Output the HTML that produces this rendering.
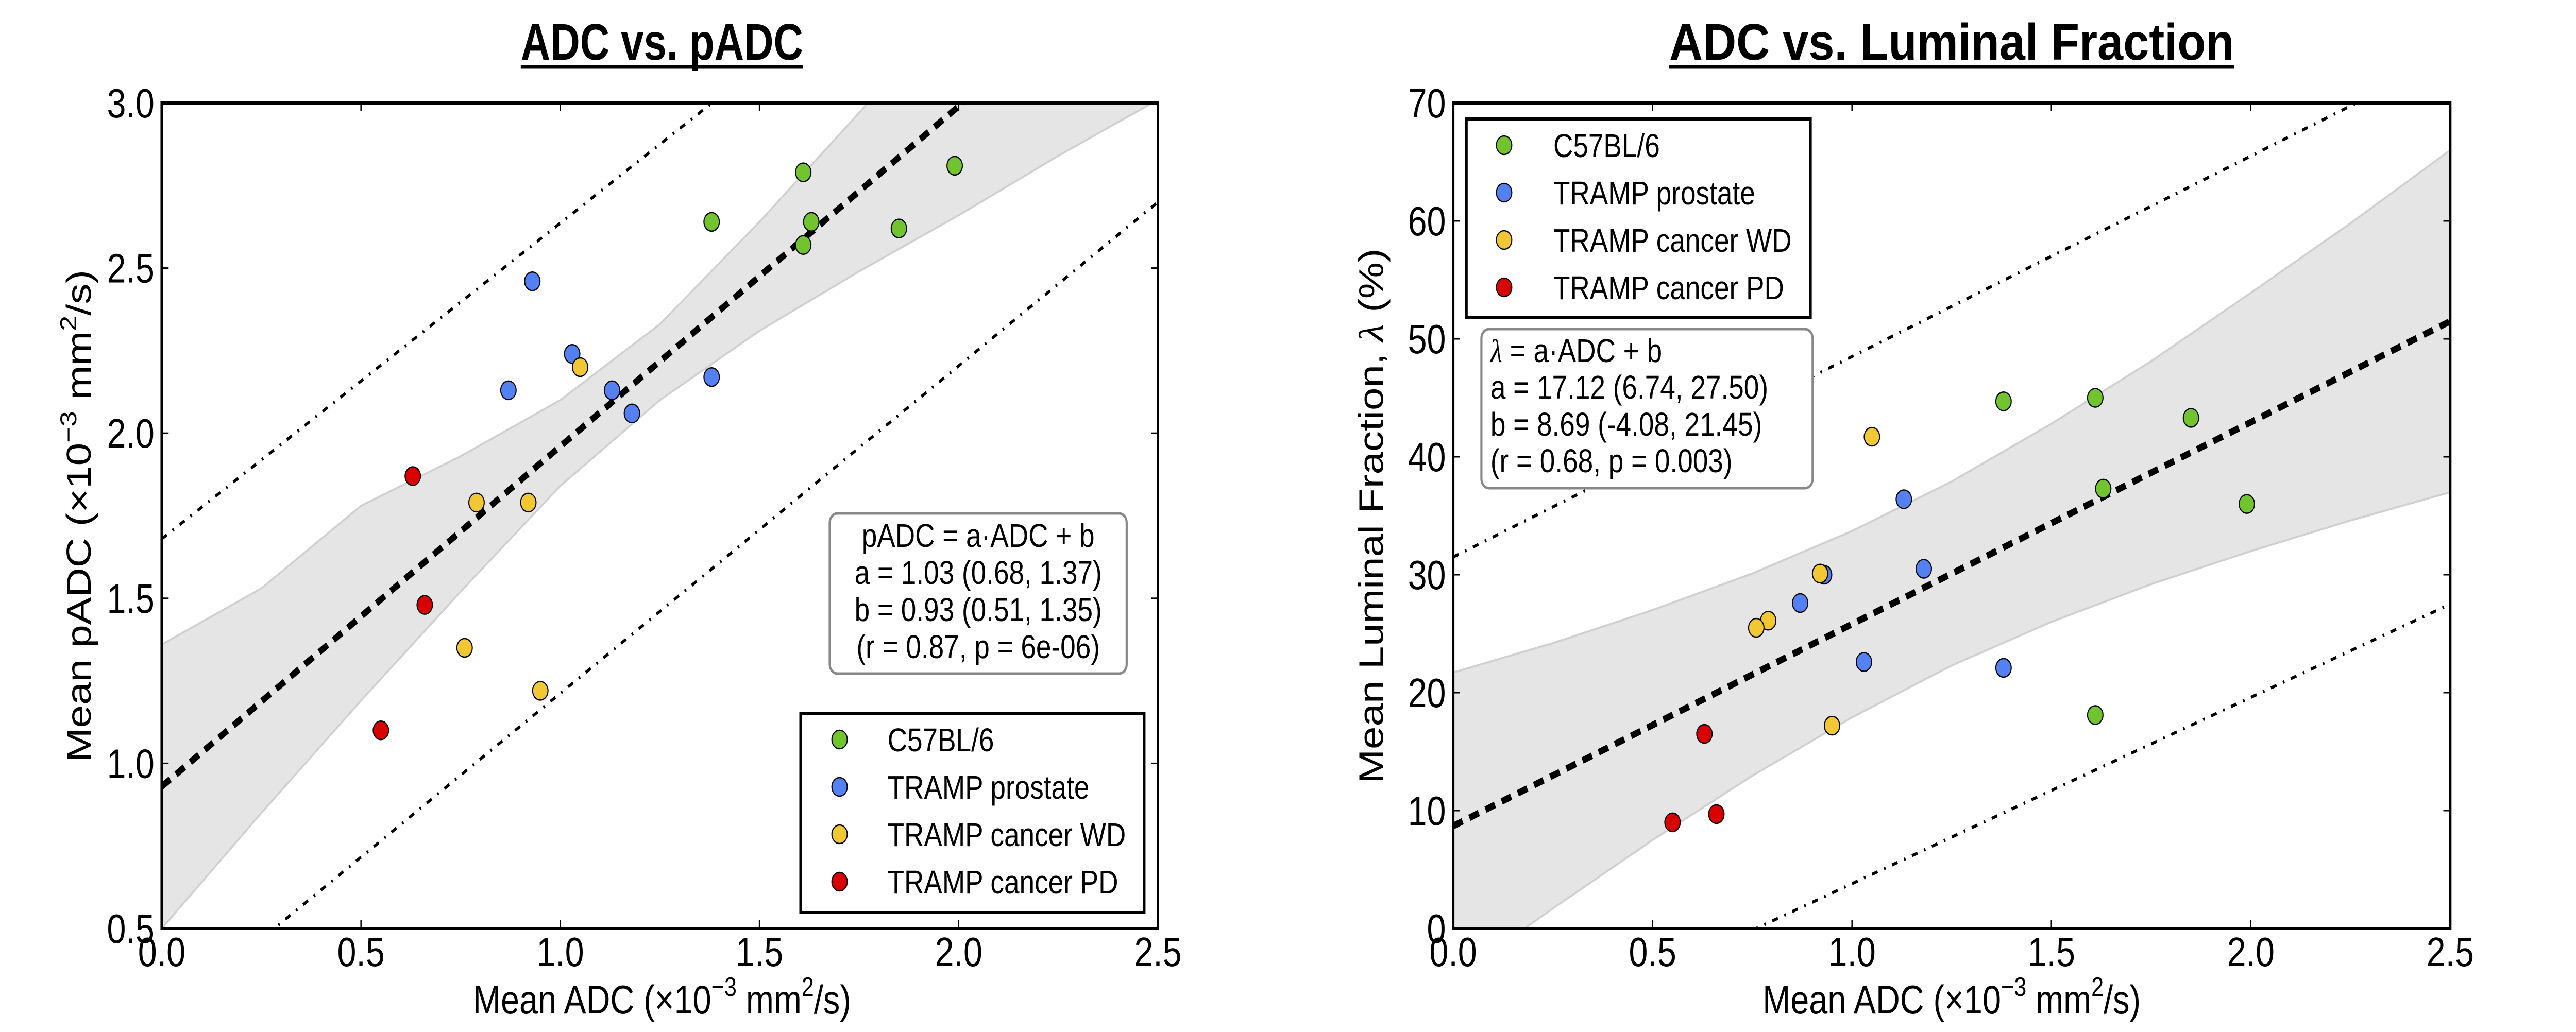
<!DOCTYPE html>
<html><head><meta charset="utf-8"><style>
html,body{margin:0;padding:0;background:#fff;overflow:hidden;width:100vw;height:100vh;}
svg{display:block;font-family:"Liberation Sans",sans-serif;width:100vw;height:100vh;}
</style></head><body>
<svg id="fig" viewBox="0 0 6020 2004" preserveAspectRatio="none" xmlns="http://www.w3.org/2000/svg">
<defs>
<clipPath id="clipL"><rect x="378" y="200" width="2328" height="1603"/></clipPath>
<clipPath id="clipR"><rect x="3396" y="200" width="2330" height="1603"/></clipPath>
</defs>
<g id="left"></g>
<g id="right"></g>
<g id="static" font-family="Liberation Sans, sans-serif">
  <text x="1547" y="116" font-size="100" font-weight="bold" text-anchor="middle" textLength="660" lengthAdjust="spacingAndGlyphs">ADC vs. pADC</text>
  <line x1="1217" y1="130" x2="1877" y2="130" stroke="#000" stroke-width="7"/>
  <text x="4561" y="116" font-size="100" font-weight="bold" text-anchor="middle" textLength="1320" lengthAdjust="spacingAndGlyphs">ADC vs. Luminal Fraction</text>
  <line x1="3901" y1="130" x2="5221" y2="130" stroke="#000" stroke-width="7"/>

  <text x="1547" y="1968" font-size="78" text-anchor="middle">Mean ADC (×10<tspan font-size="52" dy="-34">−3</tspan><tspan dy="34"> mm</tspan><tspan font-size="52" dy="-34">2</tspan><tspan dy="34">/s)</tspan></text>
  <text x="4561" y="1968" font-size="78" text-anchor="middle">Mean ADC (×10<tspan font-size="52" dy="-34">−3</tspan><tspan dy="34"> mm</tspan><tspan font-size="52" dy="-34">2</tspan><tspan dy="34">/s)</tspan></text>

  <text transform="translate(212,1002) rotate(-90)" font-size="80" text-anchor="middle">Mean pADC (×10<tspan font-size="54" dy="-34">−3</tspan><tspan dy="34"> mm</tspan><tspan font-size="54" dy="-34">2</tspan><tspan dy="34">/s)</tspan></text>
  <text transform="translate(3232,1002) rotate(-90)" font-size="80" text-anchor="middle">Mean Luminal Fraction, <tspan font-family="Liberation Serif, serif" font-style="italic">λ</tspan> (%)</text>

  <g>
    <rect x="1939" y="997" width="694" height="311" rx="18" fill="#fff" stroke="#888" stroke-width="5"/>
    <text x="2286" y="1062" font-size="64" text-anchor="middle">pADC = a·ADC + b</text>
    <text x="2286" y="1134" font-size="64" text-anchor="middle">a = 1.03 (0.68, 1.37)</text>
    <text x="2286" y="1206" font-size="64" text-anchor="middle">b = 0.93 (0.51, 1.35)</text>
    <text x="2286" y="1278" font-size="64" text-anchor="middle">(r = 0.87, p = 6e-06)</text>
  </g>
  <g>
    <rect x="3462" y="639" width="774" height="309" rx="18" fill="#fff" stroke="#888" stroke-width="5"/>
    <text x="3483" y="703" font-size="64"><tspan font-family="Liberation Serif, serif" font-style="italic">λ</tspan> = a·ADC + b</text>
    <text x="3483" y="774" font-size="64">a = 17.12 (6.74, 27.50)</text>
    <text x="3483" y="846" font-size="64">b = 8.69 (-4.08, 21.45)</text>
    <text x="3483" y="917" font-size="64">(r = 0.68, p = 0.003)</text>
  </g>
</g>
</svg>
<script>
// ---- data (left chart: ADC vs pADC) ----
const groups = ["C57BL/6","TRAMP prostate","TRAMP cancer WD","TRAMP cancer PD"];
const groupColors = ["#72c42e","#5381f2","#f2c832","#d90000"];
const adcGreen = [1.61,1.99,1.38,1.63,1.85,1.61];
const adcBlue = [0.93,1.03,0.87,1.13,1.18,1.38];
const adcYellow = [1.05,0.79,0.92,0.76,0.95];
const adcRed = [0.63,0.66,0.55];
const padcGreen = [2.79,2.81,2.64,2.64,2.62,2.57];
const padcBlue = [2.46,2.24,2.13,2.13,2.06,2.17];
const padcYellow = [2.20,1.79,1.79,1.35,1.22];
const padcRed = [1.87,1.48,1.10];
// ---- data (right chart: ADC vs luminal fraction) ----
const lumGreen = [18.1,36.0,44.7,37.3,43.3,45.0];
const lumBlue = [30.0,22.6,27.6,36.4,30.5,22.1];
const lumYellow = [41.7,26.1,30.1,25.5,17.2];
const lumRed = [16.5,9.7,9.0];
// ---- fits ----
const fitL = [1.03,0.93];
const fitR = [17.12,8.69];
const bandX = [0,0.25,0.5,0.75,1.0,1.25,1.5,1.75,2.0,2.25,2.5];
const bandLoL = [0.50,0.85,1.19,1.52,1.84,2.10,2.31,2.49,2.66,2.84,3.01];
const bandHiL = [1.36,1.53,1.78,1.93,2.10,2.33,2.64,2.97,3.32,3.66,4.00];
const bandLoR = [-4.3,1.7,7.5,12.95,17.9,22.3,26.0,29.2,32.0,34.6,37.0];
const bandHiR = [21.7,24.2,27.0,30.1,33.7,37.9,42.8,48.1,53.9,59.8,66.0];
const predX = [0,2.5];
const predHiL = [1.68,4.07];
const predLoL = [0.22,2.70];
const predHiR = [31.5,74.0];
const predLoR = [-12.0,27.5];
const xTicks = [0,0.5,1.0,1.5,2.0,2.5];
const xTickLabels = ["0.0","0.5","1.0","1.5","2.0","2.5"];
const yTicksL = [0.5,1.0,1.5,2.0,2.5,3.0];
const yTickLabelsL = ["0.5","1.0","1.5","2.0","2.5","3.0"];
const yTicksR = [0,10,20,30,40,50,60,70];
const yTickLabelsR = ["0","10","20","30","40","50","60","70"];

const NS="http://www.w3.org/2000/svg";
function mk(parent,tag,attrs,text){const e=document.createElementNS(NS,tag);for(const k in attrs)e.setAttribute(k,attrs[k]);if(text!==undefined)e.textContent=text;parent.appendChild(e);return e;}

function chart(g,c){
  const sx=v=>c.x0+(v-0)/(2.5)*(c.x1-c.x0);
  const sy=v=>c.y1-(v-c.ymin)/(c.ymax-c.ymin)*(c.y1-c.y0);
  const plot=mk(g,"g",{"clip-path":"url(#"+c.clip+")"});
  let d="M"+bandX.map((x,i)=>sx(x)+","+sy(c.lo[i])).join(" L");
  d+=" L"+bandX.slice().reverse().map((x,i)=>sx(x)+","+sy(c.hi[bandX.length-1-i])).join(" L")+"Z";
  const band=mk(plot,"path",{d:d,fill:"#e5e5e5",stroke:"#d0d0d0","stroke-width":4});
  
  
  const ph=mk(plot,"line",{x1:sx(predX[0]),y1:sy(c.ph[0]),x2:sx(predX[1]),y2:sy(c.ph[1]),stroke:"#000","stroke-width":6,"stroke-dasharray":"14 16 4 16"});
  
  
  const pl=mk(plot,"line",{x1:sx(predX[0]),y1:sy(c.pl[0]),x2:sx(predX[1]),y2:sy(c.pl[1]),stroke:"#000","stroke-width":6,"stroke-dasharray":"14 16 4 16"});
  
  
  const rl=mk(plot,"line",{x1:sx(0),y1:sy(c.fit[1]),x2:sx(2.5),y2:sy(c.fit[0]*2.5+c.fit[1]),stroke:"#000","stroke-width":13,"stroke-dasharray":"24 17"});
  
  
  c.series.forEach((s,gi)=>{
    s[0].forEach((x,i)=>{
      const p=mk(g,"ellipse",{cx:sx(x),cy:sy(s[1][i]),rx:18,ry:18,fill:groupColors[gi],stroke:"#000","stroke-width":2.5});
      
      
    });
  });
  const fr=mk(g,"rect",{x:c.x0,y:c.y0,width:c.x1-c.x0,height:c.y1-c.y0,fill:"none",stroke:"#000","stroke-width":6});
  
  
  xTicks.forEach((t,i)=>{
    const x=sx(t);
    mk(g,"line",{x1:x,y1:c.y1,x2:x,y2:c.y1-16,stroke:"#000","stroke-width":3});
    mk(g,"line",{x1:x,y1:c.y0,x2:x,y2:c.y0+16,stroke:"#000","stroke-width":3});
    const tl=mk(g,"text",{x:x,y:1876,"font-size":80,"text-anchor":"middle"},xTickLabels[i]);
    
    
  });
  c.yt.forEach((t,i)=>{
    const y=sy(t);
    mk(g,"line",{x1:c.x0,y1:y,x2:c.x0+16,y2:y,stroke:"#000","stroke-width":3});
    mk(g,"line",{x1:c.x1,y1:y,x2:c.x1-16,y2:y,stroke:"#000","stroke-width":3});
    const tl=mk(g,"text",{x:c.x0-17,y:y+28,"font-size":80,"text-anchor":"end"},c.ytl[i]);
    
    
  });
}

const L=document.getElementById("left"), R=document.getElementById("right");
chart(L,{x0:378,x1:2706,y0:200,y1:1803,ymin:0.5,ymax:3.0,clip:"clipL",lo:bandLoL,hi:bandHiL,ph:predHiL,pl:predLoL,fit:fitL,yt:yTicksL,ytl:yTickLabelsL,
  series:[[adcGreen,padcGreen],[adcBlue,padcBlue],[adcYellow,padcYellow],[adcRed,padcRed]]});
chart(R,{x0:3396,x1:5726,y0:200,y1:1803,ymin:0,ymax:70,clip:"clipR",lo:bandLoR,hi:bandHiR,ph:predHiR,pl:predLoR,fit:fitR,yt:yTicksR,ytl:yTickLabelsR,
  series:[[adcGreen,lumGreen],[adcBlue,lumBlue],[adcYellow,lumYellow],[adcRed,lumRed]]});

function legend(g,x,y,w,h,mx,tx,ry0){
  const b=mk(g,"rect",{x:x,y:y,width:w,height:h,fill:"#fff",stroke:"#000","stroke-width":6});
  
  
  groups.forEach((n,i)=>{
    const cy=ry0+i*92;
    const m=mk(g,"ellipse",{cx:mx,cy:cy,rx:18,ry:18,fill:groupColors[i],stroke:"#000","stroke-width":2.5});
    
    
    const t=mk(g,"text",{x:tx,y:cy+23,"font-size":64},n);
    
    
  });
}
legend(L,1871,1385,803,387,1962,2074,1436);
legend(R,3427,231,804,386,3515,3630,282);
</script>
</body></html>
